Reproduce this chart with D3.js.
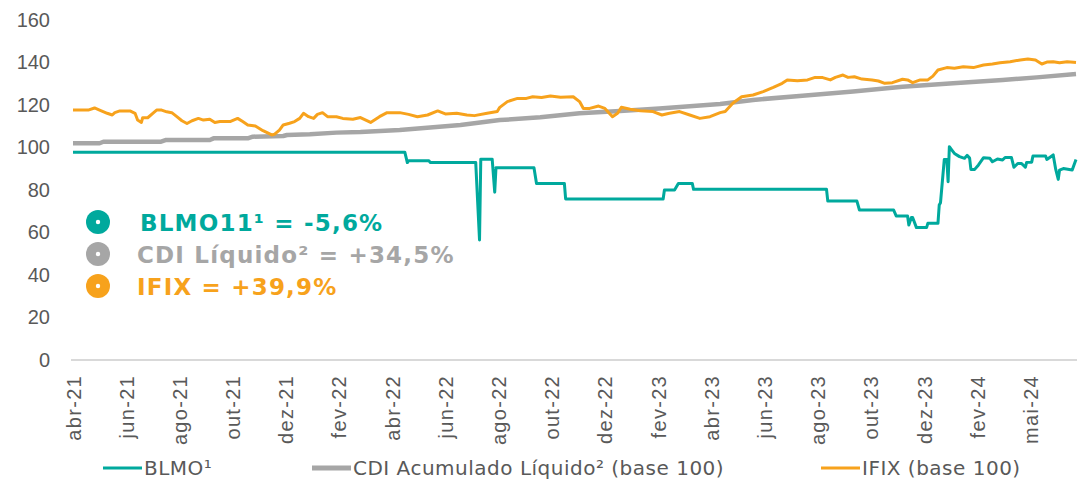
<!DOCTYPE html>
<meta charset="utf-8">
<style>
body { margin: 0; background: #fff; }
svg { font-family: "DejaVu Sans", Verdana, sans-serif; }
.axis text { fill: #595959; font-size: 20px; }
.x.axis text { letter-spacing: 1.3px; }
.x.axis path.domain { stroke: #d9d9d9; stroke-width: 2px; }
.y.axis path.domain { display: none; }
.line { fill: none; stroke-linejoin: round; stroke-linecap: butt; }
.legend text { fill: #595959; font-size: 20px; letter-spacing: 0.5px; }
.summary text { font-size: 23px; font-weight: bold; }
</style>
<body>
<div id="chart"></div>
<script src="https://cdn.jsdelivr.net/npm/d3@7/dist/d3.min.js"></script>
<script>
// x is trading day since start, one label every 42 days
var tickLabels = ["abr-21","jun-21","ago-21","out-21","dez-21","fev-22","abr-22","jun-22","ago-22",
  "out-22","dez-22","fev-23","abr-23","jun-23","ago-23","out-23","dez-23","fev-24","mai-24"];
var yTicks = [0, 20, 40, 60, 80, 100, 120, 140, 160];

// [day, value]
var blmoData = [[0,97.8],[262,97.8],[264,92.9],[265,93.8],[281,93.8],[282,93.0],[318,93.0],[321,56.5],
  [322,94.5],[331,94.5],[333,79.0],[334,90.5],[364,90.5],[366,83.1],[388,83.1],[389,75.8],[466,75.8],
  [467,80.0],[475,80.0],[478,83.1],[489,83.1],[490,80.3],[595,80.3],[596,74.8],[619,74.8],[621,70.6],
  [648,70.6],[650,67.8],[659,67.8],[660,63.5],[662,67.1],[663,67.1],[666,62.3],[674,62.3],[675,64.3],
  [683,64.3],[684,72.9],[685,74.0],[688,94.4],[690,94.4],[691,83.9],[692,100.4],[694,98.8],[696,97.2],
  [700,95.7],[704,94.9],[706,96.3],[708,95.0],[709,89.7],[712,89.7],[715,91.8],[719,95.2],[724,94.9],
  [726,93.3],[730,94.6],[734,94.1],[736,95.3],[741,95.3],[743,90.7],[746,92.5],[749,92.5],[752,90.7],
  [753,93.0],[757,93.1],[758,96.0],[768,96.0],[769,94.4],[774,96.5],[776,89.7],[778,85.0],[779,89.4],
  [782,90.1],[789,89.4],[792,94.4]];

var cdiData = [[0,102.0],[21,102.0],[24,102.7],[69,102.7],[73,103.5],[108,103.5],[111,104.3],[138,104.3],
  [142,105.1],[166,105.4],[169,105.9],[187,106.2],[208,107.0],[227,107.3],[258,108.2],[306,110.6],
  [337,112.9],[369,114.2],[400,116.1],[432,117.2],[463,118.4],[511,120.5],[537,122.4],[576,124.4],
  [616,126.3],[655,128.6],[695,130.2],[734,131.8],[761,133.0],[792,134.6]];

var ifixData = [[0,117.6],[12,117.6],[17,118.6],[21,117.6],[27,116.1],[31,115.3],[33,116.4],[37,117.2],
  [45,117.2],[49,116.1],[51,112.9],[54,111.8],[55,114.0],[59,114.0],[63,116.1],[66,117.6],[70,117.6],
  [74,116.8],[78,116.4],[82,114.5],[86,112.6],[90,111.3],[94,112.6],[99,113.7],[103,112.9],[108,113.3],
  [112,111.8],[116,112.2],[124,112.2],[130,113.7],[134,112.2],[138,110.6],[144,110.1],[150,107.9],
  [157,105.9],[159,106.2],[163,108.2],[166,110.6],[171,111.4],[175,112.2],[179,113.7],[182,116.1],
  [186,114.5],[190,113.7],[193,115.6],[197,116.4],[201,114.5],[208,114.5],[213,113.7],[221,113.3],
  [227,114.1],[235,111.8],[242,114.5],[248,116.4],[258,116.4],[265,115.6],[272,114.5],[280,115.3],
  [288,117.2],[294,115.8],[303,116.1],[311,115.3],[317,115.0],[327,116.1],[335,116.9],[337,118.9],
  [343,121.6],[351,123.1],[358,123.1],[363,123.9],[370,123.5],[377,124.2],[385,123.6],[395,123.9],
  [400,121.6],[403,118.4],[408,118.4],[415,119.5],[420,118.4],[426,114.5],[430,116.1],[433,118.9],
  [440,118.0],[448,117.3],[458,116.9],[465,115.3],[471,116.1],[479,116.9],[487,115.3],[495,113.7],
  [503,114.5],[511,116.4],[515,116.9],[521,120.8],[528,123.9],[537,124.7],[545,126.3],[553,128.3],
  [560,130.2],[564,131.8],[572,131.4],[580,131.8],[586,133.0],[592,132.9],[598,131.8],[602,133.0],
  [608,134.1],[612,133.0],[617,133.3],[623,132.2],[631,131.8],[636,131.3],[641,130.2],[647,130.5],
  [655,132.1],[659,131.8],[663,130.5],[669,131.8],[675,131.8],[679,133.6],[683,136.5],[690,137.6],
  [696,137.3],[703,138.0],[711,137.6],[719,138.8],[726,139.3],[732,139.9],[740,140.4],[748,141.2],
  [754,141.6],[760,141.2],[765,139.3],[769,140.2],[774,140.4],[779,139.9],[785,140.4],[790,140.1],
  [792,140.0]];

var seriesNames = ["BLMO¹", "CDI Acumulado Líquido² (base 100)", "IFIX (base 100)"];
var summaryTexts = ["BLMO11¹ = -5,6%", "CDI Líquido² = +34,5%", "IFIX = +39,9%"];
var colors = ["#00a99d", "#a6a6a6", "#f7a21c"];

var width = 1078, height = 485;
var lastDay = 792, tickStep = 42;

var svg = d3.select("#chart").append("svg")
    .attr("width", width)
    .attr("height", height);

var x = d3.scaleLinear().domain([0, lastDay]).range([73, 1076]);
var y = d3.scaleLinear().domain([0, 160]).range([360, 20]);

var tickDays = tickLabels.map(function(d, i) { return i * tickStep; });

// x axis
var xAxis = svg.append("g").attr("class", "x axis")
    .attr("transform", "translate(0,360)")
    .call(d3.axisBottom(x).tickValues(tickDays)
      .tickFormat(function(d, i) { return tickLabels[i]; })
      .tickSize(0).tickSizeOuter(0));
xAxis.select("path.domain").attr("d", "M71,0H1077");
xAxis.selectAll("text")
    .attr("transform", "rotate(-90)")
    .attr("text-anchor", "end")
    .attr("x", -15)
    .attr("y", 0)
    .attr("dy", "0.35em");

// y axis
svg.append("g").attr("class", "y axis")
    .attr("transform", "translate(50,0)")
    .call(d3.axisLeft(y).tickValues(yTicks).tickSize(0).tickPadding(0));

var line = d3.line()
    .x(function(d) { return x(d[0]); })
    .y(function(d) { return y(d[1]); });

svg.append("path").datum(cdiData).attr("class", "line")
    .attr("stroke", colors[1]).attr("stroke-width", 4.5).attr("d", line);
svg.append("path").datum(ifixData).attr("class", "line")
    .attr("stroke", colors[2]).attr("stroke-width", 3).attr("d", line);
svg.append("path").datum(blmoData).attr("class", "line")
    .attr("stroke", colors[0]).attr("stroke-width", 3).attr("d", line);

// summary legend inside the plot
var summary = svg.append("g").attr("class", "summary");
var sumY = [222, 254, 286];
summaryTexts.forEach(function(t, i) {
  summary.append("circle").attr("cx", 98).attr("cy", sumY[i]).attr("r", 12).attr("fill", colors[i]);
  summary.append("circle").attr("cx", 98).attr("cy", sumY[i]).attr("r", 2.2).attr("fill", "#fff");
  summary.append("text").attr("x", i == 0 ? 140 : 137).attr("y", sumY[i] + 9)
    .attr("fill", colors[i]).style("letter-spacing", "1.2px").text(t);
});

// bottom legend
var legend = svg.append("g").attr("class", "legend");
var legX = [103, 312, 821];
var legW = [3, 5, 3];
seriesNames.forEach(function(n, i) {
  legend.append("line").attr("x1", legX[i]).attr("x2", legX[i] + 39)
    .attr("y1", 468).attr("y2", 468)
    .attr("stroke", colors[i]).attr("stroke-width", legW[i]);
  legend.append("text").attr("x", legX[i] + 41).attr("y", 475).text(n);
});
</script>
</body>
